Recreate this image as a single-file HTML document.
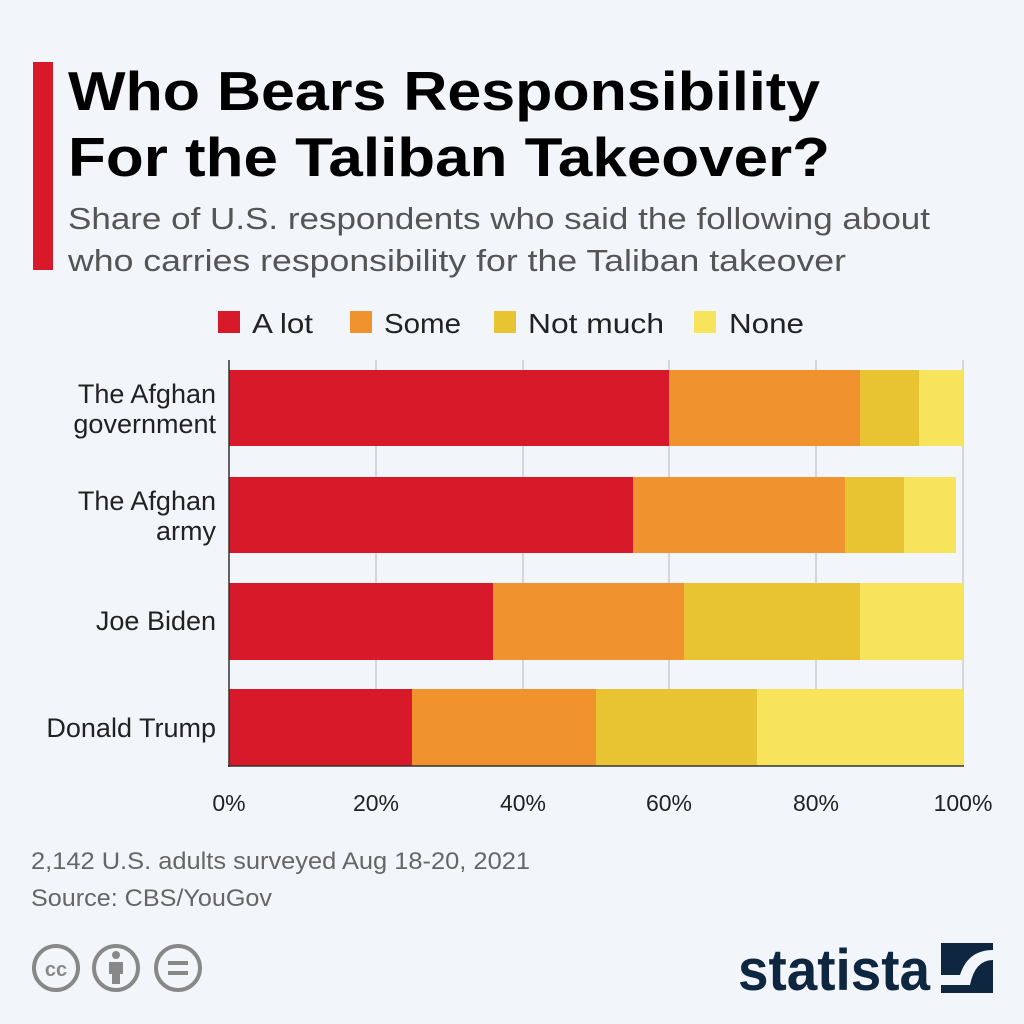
<!DOCTYPE html>
<html><head><meta charset="utf-8"><style>body{margin:0;background:#f2f6fa}svg{display:block}text{font-family:"Liberation Sans",sans-serif}</style></head>
<body>
<svg width="1024" height="1024" viewBox="0 0 1024 1024">
<rect width="1024" height="1024" fill="#f2f6fa"/>
<rect x="33" y="62" width="20" height="208" fill="#d7192a"/>
<text x="68" y="110" font-size="55" font-weight="bold" fill="#000" textLength="752" lengthAdjust="spacingAndGlyphs">Who Bears Responsibility</text>
<text x="68" y="176" font-size="55" font-weight="bold" fill="#000" textLength="762" lengthAdjust="spacingAndGlyphs">For the Taliban Takeover?</text>
<text x="68" y="229" font-size="31" fill="#555" textLength="862" lengthAdjust="spacingAndGlyphs">Share of U.S. respondents who said the following about</text>
<text x="68" y="271" font-size="31" fill="#555" textLength="778" lengthAdjust="spacingAndGlyphs">who carries responsibility for the Taliban takeover</text>
<g font-size="28" fill="#222">
<rect x="218" y="311" width="22" height="22" fill="#d7192a"/><text x="252" y="333" textLength="61" lengthAdjust="spacingAndGlyphs">A lot</text>
<rect x="350" y="311" width="22" height="22" fill="#f0922d"/><text x="384" y="333" textLength="77" lengthAdjust="spacingAndGlyphs">Some</text>
<rect x="494" y="311" width="22" height="22" fill="#e8c332"/><text x="528" y="333" textLength="136" lengthAdjust="spacingAndGlyphs">Not much</text>
<rect x="694" y="311" width="22" height="22" fill="#f8e35c"/><text x="729" y="333" textLength="75" lengthAdjust="spacingAndGlyphs">None</text>
</g>
<g stroke="#ccc" stroke-width="1.5">
<line x1="376" y1="360" x2="376" y2="766"/><line x1="523" y1="360" x2="523" y2="766"/>
<line x1="669" y1="360" x2="669" y2="766"/><line x1="816" y1="360" x2="816" y2="766"/><line x1="963" y1="360" x2="963" y2="766"/>
</g>
<g>
<rect x="229" y="370" width="440" height="76" fill="#d7192a"/><rect x="669" y="370" width="191" height="76" fill="#f0922d"/><rect x="860" y="370" width="59" height="76" fill="#e8c332"/><rect x="919" y="370" width="44" height="76" fill="#f8e35c"/>
<rect x="229" y="477" width="404" height="76" fill="#d7192a"/><rect x="633" y="477" width="212" height="76" fill="#f0922d"/><rect x="845" y="477" width="59" height="76" fill="#e8c332"/><rect x="904" y="477" width="52" height="76" fill="#f8e35c"/>
<rect x="229" y="583" width="264" height="77" fill="#d7192a"/><rect x="493" y="583" width="191" height="77" fill="#f0922d"/><rect x="684" y="583" width="176" height="77" fill="#e8c332"/><rect x="860" y="583" width="103" height="77" fill="#f8e35c"/>
<rect x="229" y="689" width="183" height="77" fill="#d7192a"/><rect x="412" y="689" width="184" height="77" fill="#f0922d"/><rect x="596" y="689" width="161" height="77" fill="#e8c332"/><rect x="757" y="689" width="206" height="77" fill="#f8e35c"/>
</g>
<line x1="229" y1="360" x2="229" y2="767" stroke="#333" stroke-width="1.5"/>
<line x1="228" y1="766" x2="964" y2="766" stroke="#333" stroke-width="1.5"/>
<g font-size="27" fill="#222" text-anchor="end">
<text x="216" y="403">The Afghan</text><text x="216" y="433">government</text>
<text x="216" y="510">The Afghan</text><text x="216" y="540">army</text>
<text x="216" y="630">Joe Biden</text>
<text x="216" y="737">Donald Trump</text>
</g>
<g font-size="23" fill="#222" text-anchor="middle">
<text x="229" y="811">0%</text><text x="376" y="811">20%</text><text x="523" y="811">40%</text><text x="669" y="811">60%</text><text x="816" y="811">80%</text><text x="963" y="811">100%</text>
</g>
<text x="31" y="869" font-size="24" fill="#666" textLength="499" lengthAdjust="spacingAndGlyphs">2,142 U.S. adults surveyed Aug 18-20, 2021</text>
<text x="31" y="906" font-size="24" fill="#666" textLength="241" lengthAdjust="spacingAndGlyphs">Source: CBS/YouGov</text>
<g fill="none" stroke="#888" stroke-width="4">
<circle cx="56" cy="968" r="22"/><circle cx="116" cy="968" r="22"/><circle cx="178" cy="968" r="22"/>
</g>
<text x="56" y="976" font-size="20" font-weight="bold" fill="#888" text-anchor="middle">cc</text>
<circle cx="116" cy="955" r="4" fill="#888"/><rect x="109" y="962" width="14" height="12" fill="#888"/><rect x="112" y="972" width="8" height="12" fill="#888"/>
<rect x="168" y="961" width="20" height="4" fill="#888"/><rect x="168" y="971" width="20" height="4" fill="#888"/>
<text x="738" y="990" font-size="58" font-weight="bold" fill="#0f2640" textLength="192" lengthAdjust="spacingAndGlyphs">statista</text>
<rect x="941" y="943" width="52" height="50" fill="#0f2640"/>
<path d="M941 975 L960 975 Q968 950 993 950 L993 960 Q975 960 970 985 L941 985Z" fill="#f2f6fa"/>
</svg>
</body></html>
